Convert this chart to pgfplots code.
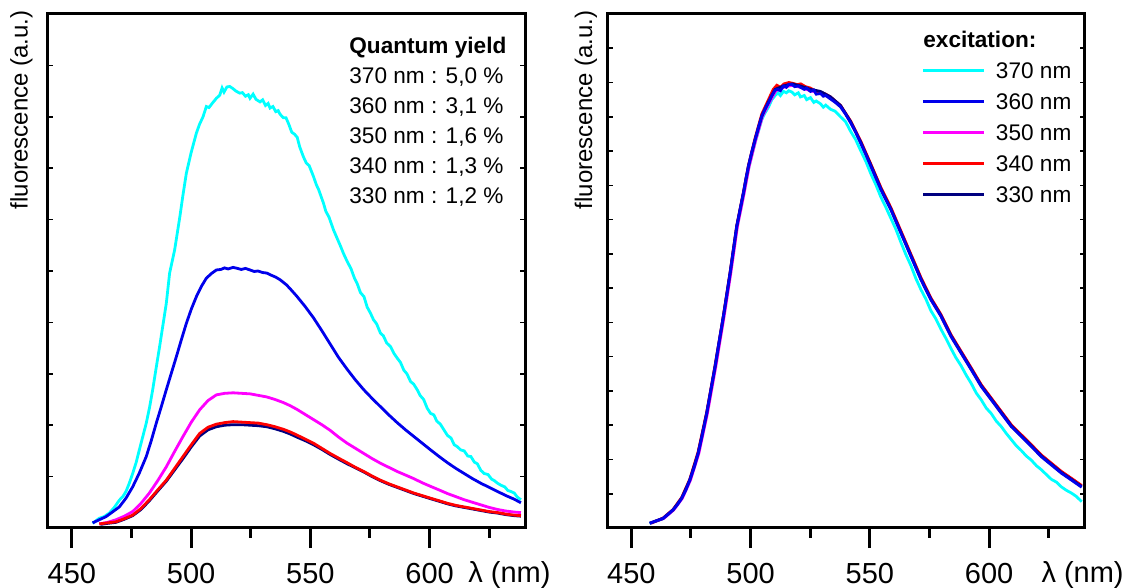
\documentclass[border=0pt]{standalone}
\usepackage{fontspec}
\setmainfont{Liberation Sans}
\usepackage{pgfplots}
\pgfplotsset{compat=1.18}

\definecolor{c370}{RGB}{0,255,255}
\definecolor{c360}{RGB}{0,0,235}
\definecolor{c350}{RGB}{255,0,255}
\definecolor{c340}{RGB}{255,0,0}
\definecolor{c330}{RGB}{0,0,128}

\pgfplotsset{
  panel/.style={scale only axis, width=238.5pt, height=257pt, xmin=440, xmax=640,
    clip mode=individual},
  frame/.style={panel, axis line style={line width=1.5pt}, xtick=\empty,
    tick align=inside, major tick length=2.5pt,
    ytick style={line width=0.8pt, black}, yticklabels={},
    every axis plot/.append style={line width=1.4pt}},
  wavescale/.style={panel, ymin=0, ymax=1, hide y axis, axis x line*=bottom,
    x axis line style={line width=1.5pt, -},
    xtick={450,500,550,600}, minor xtick={475,525,575,625},
    tick align=outside, major tick length=10pt, minor tick length=5pt,
    xtick style={line width=1.5pt, black},
    xticklabel style={font=\fontsize{14.5}{17}\selectfont, anchor=base, yshift=-17.5pt},
    /pgf/number format/assume math mode=true},
}
\newcommand\ylab{\fontsize{12}{14}\selectfont}
\newcommand\leg{\fontsize{11.3}{13.5}\selectfont}

\begin{document}
\begin{tikzpicture}
\useasboundingbox (0,0) rectangle (564.5pt,294pt);

% ---------------- left panel: raw emission spectra ----------------
\begin{axis}[frame, at={(24pt,30pt)}, ymin=0, ymax=10, ytick={1,...,9}]
\addplot[c370] coordinates {
(458.7,0.09)(461.5,0.19)(463.5,0.22)(465.7,0.29)(467.8,0.40)(469.9,0.54)(471.5,0.62)(472.7,0.71)
(474.0,0.86)(475.5,1.06)(477.0,1.28)(478.3,1.52)(479.7,1.77)(481.2,2.04)(482.6,2.35)(483.9,2.69)
(485.3,3.10)(486.8,3.53)(488.2,3.95)(489.6,4.37)(491.0,4.96)(493.1,5.41)(495.3,6.06)(496.5,6.45)
(498.0,6.90)(500.0,7.30)(502.2,7.68)(503.5,7.85)(505.0,8.00)(506.4,8.20)(507.5,8.18)(509.0,8.27)
(510.6,8.36)(512.0,8.42)(513.0,8.56)(513.8,8.48)(515.0,8.58)(516.2,8.59)(517.5,8.55)(518.8,8.50)
(520.4,8.46)(521.5,8.47)(522.8,8.40)(524.0,8.43)(524.7,8.36)(526.0,8.44)(527.2,8.34)(528.9,8.29)
(530.0,8.33)(531.2,8.22)(532.3,8.26)(533.1,8.17)(534.3,8.20)(535.5,8.10)(536.5,8.12)(537.3,8.05)
(538.7,7.98)(539.8,7.98)(541.0,7.85)(542.2,7.70)(543.4,7.66)(544.5,7.60)(545.5,7.42)(547.1,7.22)
(548.3,7.10)(549.5,7.05)(551.3,6.84)(552.5,6.68)(553.5,6.58)(555.5,6.32)(556.5,6.16)(557.8,6.05)
(559.7,5.80)(561.0,5.66)(562.5,5.50)(563.9,5.34)(565.5,5.18)(567.0,5.05)(568.5,4.86)(569.6,4.76)
(571.0,4.58)(572.5,4.50)(573.8,4.30)(575.2,4.18)(576.5,4.05)(577.8,3.97)(579.4,3.79)(580.6,3.74)
(582.0,3.60)(583.6,3.53)(585.0,3.40)(586.5,3.30)(587.8,3.22)(589.2,3.07)(590.5,3.00)(592.0,2.85)
(593.3,2.80)(594.8,2.69)(596.0,2.58)(597.5,2.50)(599.0,2.33)(600.4,2.23)(601.8,2.20)(603.0,2.08)
(604.5,2.02)(606.0,1.91)(607.5,1.80)(609.0,1.75)(610.3,1.62)(611.7,1.58)(613.0,1.52)(614.5,1.50)
(616.0,1.40)(617.3,1.39)(618.8,1.28)(620.0,1.25)(621.5,1.12)(622.9,1.06)(624.5,1.04)(626.0,0.95)
(627.2,0.92)(628.5,0.87)(630.0,0.83)(631.5,0.80)(632.8,0.73)(634.1,0.71)(635.5,0.68)(636.8,0.60)
(638.3,0.55)};
\addplot[c360] coordinates {
(458.7,0.10)(461.5,0.16)(464.3,0.22)(467.0,0.31)(469.9,0.41)(472.7,0.58)(475.5,0.80)(478.3,1.07)
(481.2,1.39)(483.3,1.70)(485.4,2.04)(487.5,2.36)(489.6,2.69)(491.7,3.01)(493.8,3.33)(495.9,3.66)
(498.0,3.98)(500.1,4.26)(502.2,4.50)(504.3,4.70)(506.4,4.86)(508.5,4.95)(510.6,5.02)(512.5,5.03)
(514.0,5.06)(515.5,5.04)(517.6,5.07)(519.5,5.05)(521.0,5.03)(522.8,5.05)(524.7,5.02)(526.5,4.99)
(528.0,5.00)(530.0,4.97)(531.7,4.96)(533.5,4.92)(535.5,4.88)(537.3,4.83)(540.0,4.73)(542.0,4.63)
(544.3,4.51)(547.8,4.31)(551.3,4.09)(554.8,3.84)(558.3,3.58)(561.8,3.32)(565.4,3.09)(568.9,2.88)
(572.4,2.69)(575.9,2.52)(579.4,2.36)(582.9,2.20)(586.4,2.05)(589.9,1.91)(593.4,1.78)(596.9,1.65)
(600.4,1.52)(604.0,1.39)(607.5,1.27)(611.0,1.16)(614.5,1.06)(618.0,0.96)(621.5,0.87)(625.0,0.79)
(628.5,0.71)(632.0,0.63)(635.5,0.56)(638.3,0.49)};
\addplot[c350] coordinates {
(461.5,0.08)(465.0,0.11)(468.5,0.16)(472.0,0.23)(475.5,0.32)(479.0,0.48)(482.5,0.68)(486.0,0.92)
(489.6,1.19)(493.1,1.49)(496.6,1.78)(500.1,2.06)(503.6,2.30)(507.1,2.48)(510.6,2.59)(514.1,2.62)
(517.6,2.63)(521.1,2.62)(524.7,2.61)(528.2,2.58)(531.7,2.55)(535.2,2.50)(538.7,2.44)(541.5,2.38)
(544.3,2.31)(547.8,2.21)(551.3,2.11)(554.8,2.01)(558.3,1.90)(561.8,1.77)(565.4,1.65)(568.9,1.55)
(572.4,1.45)(575.9,1.35)(579.4,1.26)(582.9,1.18)(586.4,1.10)(589.9,1.03)(593.4,0.96)(596.9,0.88)
(600.4,0.81)(604.0,0.74)(607.5,0.67)(611.0,0.61)(614.5,0.55)(618.0,0.50)(621.5,0.45)(625.0,0.40)
(628.5,0.36)(632.0,0.33)(635.5,0.31)(638.3,0.30)};
\addplot[c330] coordinates {
(462.0,0.07)(465.0,0.09)(468.5,0.11)(472.0,0.17)(475.5,0.24)(479.0,0.36)(482.5,0.53)(486.0,0.72)
(489.6,0.91)(493.1,1.13)(496.6,1.35)(500.1,1.58)(503.6,1.79)(507.1,1.91)(510.6,1.97)(514.1,2.00)
(517.6,2.01)(521.1,2.01)(524.7,2.00)(528.2,1.99)(531.7,1.97)(535.2,1.93)(538.7,1.88)(541.5,1.83)
(544.3,1.77)(547.8,1.70)(551.3,1.62)(554.8,1.53)(558.3,1.43)(561.8,1.34)(565.4,1.25)(568.9,1.17)
(572.4,1.09)(575.9,1.00)(579.4,0.92)(582.9,0.85)(586.4,0.79)(589.9,0.73)(593.4,0.67)(596.9,0.62)
(600.4,0.57)(604.0,0.52)(607.5,0.47)(611.0,0.43)(614.5,0.40)(618.0,0.37)(621.5,0.34)(625.0,0.31)
(628.5,0.29)(632.0,0.26)(635.5,0.24)(638.3,0.23)};
\addplot[c340] coordinates {
(461.5,0.08)(465.0,0.10)(468.5,0.12)(472.0,0.18)(475.5,0.25)(479.0,0.38)(482.5,0.55)(486.0,0.74)
(489.6,0.93)(493.1,1.16)(496.6,1.39)(500.1,1.62)(503.6,1.84)(507.1,1.96)(510.6,2.02)(514.1,2.05)
(517.6,2.07)(521.1,2.06)(524.7,2.05)(528.2,2.04)(531.7,2.01)(535.2,1.97)(538.7,1.92)(541.5,1.87)
(544.3,1.81)(547.8,1.73)(551.3,1.65)(554.8,1.55)(558.3,1.45)(561.8,1.36)(565.4,1.27)(568.9,1.18)
(572.4,1.10)(575.9,1.01)(579.4,0.93)(582.9,0.86)(586.4,0.80)(589.9,0.74)(593.4,0.68)(596.9,0.63)
(600.4,0.58)(604.0,0.53)(607.5,0.48)(611.0,0.44)(614.5,0.41)(618.0,0.38)(621.5,0.35)(625.0,0.32)
(628.5,0.30)(632.0,0.27)(635.5,0.25)(638.3,0.24)};
% quantum yields
\node[anchor=base west, inner sep=0pt, font=\leg\bfseries] at (rel axis cs:0.631,0.9235) {Quantum yield};
\node[anchor=base west, inner sep=0pt, font=\leg] at ([yshift=-15pt]rel axis cs:0.631,0.9235) {370 nm : 5,0 \%};
\node[anchor=base west, inner sep=0pt, font=\leg] at ([yshift=-30pt]rel axis cs:0.631,0.9235) {360 nm : 3,1 \%};
\node[anchor=base west, inner sep=0pt, font=\leg] at ([yshift=-45pt]rel axis cs:0.631,0.9235) {350 nm : 1,6 \%};
\node[anchor=base west, inner sep=0pt, font=\leg] at ([yshift=-60pt]rel axis cs:0.631,0.9235) {340 nm : 1,3 \%};
\node[anchor=base west, inner sep=0pt, font=\leg] at ([yshift=-75pt]rel axis cs:0.631,0.9235) {330 nm : 1,2 \%};
\node[anchor=south east, rotate=90, inner sep=0pt, font=\ylab] at ([xshift=-7.5pt,yshift=2pt]rel axis cs:0,1) {fluorescence (a.u.)};
\end{axis}
\begin{axis}[wavescale, at={(24pt,30pt)}]
\node[anchor=base west, inner sep=0pt, font=\fontsize{14.5}{17}\selectfont] at ([yshift=-27.5pt]rel axis cs:0.8805,0) {λ (nm)};
\end{axis}

% ---------------- right panel: normalised spectra ----------------
\begin{axis}[frame, at={(303.75pt,30pt)}, ymin=0, ymax=15, ytick={1,...,14},
  legend style={at={(rel axis cs:0.6593,0.9047)}, anchor=north west, draw=none, fill=none,
    inner sep=0pt, outer sep=0pt, row sep=7.4pt, column sep=5pt, font=\leg,
    nodes={inner sep=0pt, text height=8pt, text depth=0pt}},
  legend cell align=left,
  legend image code/.code={\draw[#1, line width=1.5pt] (0pt,0pt) -- (30.5pt,0pt);}]
\addplot[c370, forget plot] coordinates {
(457.7,0.13)(463.3,0.27)(467.5,0.52)(471.1,0.85)(474.5,1.37)(478.0,2.14)(481.6,3.30)(485.1,4.66)
(488.6,6.12)(491.4,7.38)(494.2,8.74)(497.0,9.70)(499.1,10.48)(501.9,11.25)(504.7,11.92)(506.1,12.12)
(507.5,12.28)(508.9,12.50)(510.3,12.62)(511.5,12.70)(512.5,12.62)(513.8,12.74)(515.0,12.70)(516.0,12.76)
(517.4,12.72)(518.5,12.64)(520.0,12.70)(520.9,12.58)(522.5,12.62)(523.5,12.50)(525.1,12.56)(526.5,12.42)
(527.5,12.46)(529.3,12.38)(530.5,12.28)(531.5,12.34)(533.5,12.22)(535.5,12.16)(537.7,12.00)(539.8,11.86)
(541.9,11.58)(544.0,11.34)(546.1,11.02)(548.3,10.70)(550.4,10.34)(552.5,10.02)(554.6,9.66)(556.7,9.36)
(558.8,9.04)(560.9,8.72)(563.0,8.34)(565.1,7.98)(567.2,7.66)(569.3,7.28)(571.4,6.96)(573.5,6.68)
(575.6,6.34)(577.7,6.10)(579.8,5.80)(582.0,5.52)(584.0,5.24)(586.0,4.98)(588.2,4.74)(590.4,4.46)
(592.5,4.22)(594.6,3.94)(596.7,3.74)(598.8,3.50)(600.9,3.34)(603.0,3.12)(605.1,2.96)(607.2,2.76)
(609.3,2.58)(611.4,2.40)(613.5,2.26)(615.6,2.10)(617.7,1.98)(619.8,1.82)(621.9,1.70)(624.0,1.56)
(626.1,1.42)(628.2,1.34)(630.3,1.20)(632.4,1.10)(634.5,1.02)(636.6,0.92)(638.8,0.77)};
\addplot[c350, forget plot] coordinates {
(458.0,0.14)(463.6,0.28)(467.8,0.53)(471.4,0.87)(474.8,1.40)(478.3,2.18)(481.9,3.35)(485.4,4.71)
(488.9,6.18)(491.7,7.44)(494.5,8.81)(497.3,9.78)(499.4,10.56)(502.2,11.34)(505.0,12.02)(507.8,12.41)
(510.6,12.76)(513.8,12.86)(517.4,12.92)(520.9,12.86)(525.1,12.76)(529.3,12.70)(533.5,12.55)(537.7,12.32)
(541.9,11.86)(546.1,11.28)(550.4,10.60)(554.6,9.92)(558.8,9.33)(563.0,8.65)(567.2,7.97)(571.4,7.29)
(575.6,6.70)(579.8,6.22)(584.0,5.63)(588.2,5.15)(592.5,4.66)(596.7,4.17)(600.9,3.78)(605.1,3.39)
(609.3,3.00)(613.5,2.71)(617.7,2.42)(621.9,2.12)(626.1,1.88)(630.3,1.64)(634.5,1.44)(638.8,1.23)};
\addplot[c340, forget plot] coordinates {
(458.2,0.14)(463.3,0.29)(467.5,0.54)(471.1,0.89)(474.5,1.42)(478.0,2.22)(481.6,3.38)(485.1,4.74)
(488.6,6.20)(491.4,7.46)(494.2,8.82)(497.0,9.80)(499.1,10.58)(501.9,11.38)(504.7,12.08)(507.5,12.50)
(509.5,12.80)(511.0,12.92)(512.5,12.86)(514.0,12.96)(516.0,13.00)(517.5,12.98)(519.5,12.94)(521.0,12.96)
(523.0,12.88)(525.0,12.84)(527.0,12.76)(529.3,12.72)(531.5,12.66)(533.5,12.58)(535.5,12.46)(537.7,12.33)
(541.9,11.88)(546.1,11.30)(550.4,10.62)(554.6,9.94)(558.8,9.35)(563.0,8.67)(567.2,7.99)(571.4,7.31)
(575.6,6.71)(579.8,6.23)(584.0,5.64)(588.2,5.16)(592.5,4.67)(596.7,4.18)(600.9,3.79)(605.1,3.40)
(609.3,3.01)(613.5,2.72)(617.7,2.43)(621.9,2.13)(626.1,1.89)(630.3,1.65)(634.5,1.45)(638.8,1.24)};
\addplot[c330, forget plot] coordinates {
(457.7,0.14)(463.3,0.28)(467.5,0.53)(471.1,0.87)(474.5,1.40)(478.0,2.18)(481.6,3.35)(485.1,4.71)
(488.6,6.18)(491.4,7.44)(494.2,8.81)(497.0,9.78)(499.1,10.56)(501.9,11.34)(504.7,12.02)(507.5,12.44)
(510.3,12.80)(513.8,12.90)(517.4,12.96)(520.9,12.90)(525.1,12.80)(529.3,12.74)(533.5,12.58)(537.7,12.33)
(541.9,11.86)(546.1,11.27)(550.4,10.59)(554.6,9.90)(558.8,9.31)(563.0,8.63)(567.2,7.95)(571.4,7.27)
(575.6,6.68)(579.8,6.20)(584.0,5.61)(588.2,5.13)(592.5,4.64)(596.7,4.15)(600.9,3.76)(605.1,3.37)
(609.3,2.98)(613.5,2.69)(617.7,2.40)(621.9,2.10)(626.1,1.86)(630.3,1.62)(634.5,1.42)(638.8,1.21)};
\addplot[c360, forget plot] coordinates {
(457.7,0.14)(460.5,0.21)(463.3,0.28)(465.4,0.40)(467.5,0.53)(469.3,0.68)(471.1,0.87)(472.8,1.10)
(474.5,1.40)(476.3,1.76)(478.0,2.18)(479.8,2.74)(481.6,3.35)(483.3,4.02)(485.1,4.71)(486.8,5.44)
(488.6,6.18)(490.0,6.80)(491.4,7.44)(492.8,8.12)(494.2,8.81)(495.6,9.30)(497.0,9.78)(498.0,10.18)
(499.1,10.56)(500.5,10.98)(501.9,11.34)(503.3,11.70)(504.7,12.02)(506.1,12.24)(507.5,12.41)(508.9,12.62)
(510.3,12.78)(511.5,12.80)(512.5,12.76)(513.8,12.90)(515.0,12.86)(516.0,12.95)(517.4,12.94)(518.5,12.88)
(520.0,12.90)(520.9,12.86)(522.5,12.80)(523.5,12.84)(525.1,12.74)(526.5,12.78)(527.5,12.66)(529.3,12.68)
(530.5,12.60)(531.5,12.62)(533.5,12.52)(535.5,12.42)(537.7,12.29)(539.8,12.08)(541.9,11.83)(544.0,11.56)
(546.1,11.24)(548.3,10.90)(550.4,10.56)(552.5,10.22)(554.6,9.88)(556.7,9.58)(558.8,9.29)(560.9,8.95)
(563.0,8.61)(565.1,8.27)(567.2,7.93)(569.3,7.59)(571.4,7.25)(573.5,6.95)(575.6,6.66)(577.7,6.42)
(579.8,6.18)(584.0,5.59)(588.2,5.11)(592.5,4.62)(596.7,4.13)(600.9,3.74)(605.1,3.35)(609.3,2.96)
(613.5,2.67)(617.7,2.38)(621.9,2.08)(626.1,1.84)(630.3,1.60)(634.5,1.40)(638.8,1.19)};
\addlegendimage{c370}\addlegendentry{370 nm}
\addlegendimage{c360}\addlegendentry{360 nm}
\addlegendimage{c350}\addlegendentry{350 nm}
\addlegendimage{c340}\addlegendentry{340 nm}
\addlegendimage{c330}\addlegendentry{330 nm}
\node[anchor=base west, font=\leg\bfseries, inner sep=0pt] at (rel axis cs:0.6614,0.9352) {excitation:};
\node[anchor=south east, rotate=90, inner sep=0pt, font=\ylab] at ([xshift=-5pt,yshift=2pt]rel axis cs:0,1) {fluorescence (a.u.)};
\end{axis}
\begin{axis}[wavescale, at={(303.75pt,30pt)}]
\node[anchor=base west, inner sep=0pt, font=\fontsize{14.5}{17}\selectfont] at ([yshift=-27.5pt]rel axis cs:0.909,0) {λ (nm)};
\end{axis}
\end{tikzpicture}
\end{document}
